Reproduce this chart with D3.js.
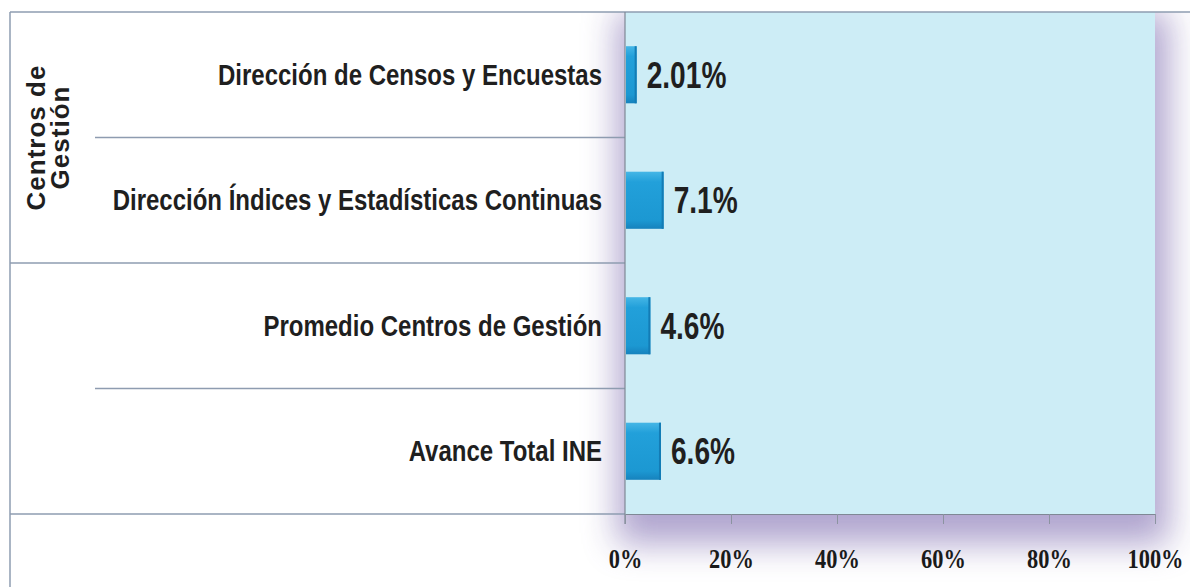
<!DOCTYPE html>
<html>
<head>
<meta charset="utf-8">
<script src="https://cdn.jsdelivr.net/npm/d3@7"></script>
<style>
  html, body { margin:0; padding:0; background:#fff; }
  svg { display:block; }
</style>
</head>
<body>
<svg id="chart" width="1190" height="587"></svg>
<script>
// data
const categories = [
    'Dirección de Censos y Encuestas',
    'Dirección Índices y Estadísticas Continuas',
    'Promedio Centros de Gestión',
    'Avance Total INE'
];
const values = [2.01, 7.1, 4.6, 6.6];
const valueLabels = ['2.01%', '7.1%', '4.6%', '6.6%'];
const rowGroups = ['Centros de Gestión', 'Centros de Gestión', '', ''];
const groupLabelLines = ['Centros de', 'Gestión'];
const tickValues = [0, 20, 40, 60, 80, 100];

const size = { width:1190, height:587 },
      plot = { left:625, right:1155, top:12, bottom:514 },
      frameLeft = 10,
      innerLineLeft = 95,
      lineColor = '#8e9cb0',
      textColor = '#1f1f1f';

const svg = d3.select('#chart');
const defs = svg.append('defs');

const glow = defs.append('filter').attr('id','glow')
    .attr('filterUnits','userSpaceOnUse')
    .attr('x',0).attr('y',0).attr('width',size.width).attr('height',size.height);
glow.append('feGaussianBlur').attr('stdDeviation',17);

defs.append('clipPath').attr('id','belowTop')
    .append('rect').attr('x',0).attr('y',plot.top).attr('width',size.width).attr('height',size.height);

const barGrad = defs.append('linearGradient').attr('id','barGrad')
    .attr('x1',0).attr('y1',0).attr('x2',0).attr('y2',1);
barGrad.append('stop').attr('offset','0%').attr('stop-color','#45b6e6');
barGrad.append('stop').attr('offset','18%').attr('stop-color','#22a0da');
barGrad.append('stop').attr('offset','85%').attr('stop-color','#1c98d2');
barGrad.append('stop').attr('offset','100%').attr('stop-color','#1682bd');

const x = d3.scaleLinear().domain([0,100]).range([plot.left, plot.right]);
const y = d3.scaleBand().domain(categories).range([plot.top, plot.bottom]).padding(0);
const barH = y.bandwidth()*0.455;

// soft lavender shadow round the plot area
svg.append('g').attr('clip-path','url(#belowTop)')
    .append('rect')
    .attr('x',plot.left-8).attr('y',plot.top).attr('width',plot.right-plot.left+22).attr('height',plot.bottom-plot.top+30)
    .attr('fill','#aca0cc').attr('opacity',0.95)
    .attr('filter','url(#glow)');

svg.append('rect')
    .attr('x',plot.left).attr('y',plot.top)
    .attr('width',plot.right-plot.left).attr('height',plot.bottom-plot.top)
    .attr('fill','#cdedf6');

// outer frame
svg.append('line').attr('x1',frameLeft).attr('x2',size.width).attr('y1',plot.top).attr('y2',plot.top)
    .attr('stroke',lineColor).attr('stroke-width',1.5);
svg.append('line').attr('x1',frameLeft).attr('x2',frameLeft).attr('y1',plot.top).attr('y2',size.height)
    .attr('stroke',lineColor).attr('stroke-width',1.5);

// category axis: separator lines (multi-level)
svg.append('g').selectAll('line').data(categories).join('line')
    .attr('x1',(d,i)=> rowGroups[i]!==rowGroups[i+1] ? frameLeft : innerLineLeft)
    .attr('x2',plot.left)
    .attr('y1',d=> y(d)+y.bandwidth()).attr('y2',d=> y(d)+y.bandwidth())
    .attr('stroke',lineColor).attr('stroke-width',1.5);

svg.append('line').attr('x1',plot.left).attr('x2',plot.left).attr('y1',plot.top).attr('y2',plot.bottom+10)
    .attr('stroke','#7f8895').attr('stroke-width',1.2);

// category labels
svg.append('g').selectAll('g').data(categories).join('g')
    .attr('transform',d=> `translate(${plot.left-23},${y(d)+y.bandwidth()/2+10}) scale(0.8,1)`)
    .append('text')
    .attr('text-anchor','end')
    .style('font-family','"Liberation Sans", Arial, sans-serif')
    .style('font-weight','bold').style('font-size','30px')
    .style('fill',textColor)
    .text(d=> d);

// group label
const grp = rowGroups.filter((g,i)=> g && rowGroups.indexOf(g)===i);
grp.forEach(g=>{
    const rows = categories.filter((c,i)=> rowGroups[i]===g);
    const yMid = (y(rows[0]) + y(rows[rows.length-1]) + y.bandwidth())/2;
    const t = svg.append('text')
        .attr('transform',`translate(45,${yMid}) rotate(-90)`)
        .attr('text-anchor','middle')
        .style('font-family','"Liberation Sans", Arial, sans-serif')
        .style('font-weight','bold').style('font-size','26px')
        .style('letter-spacing','1px')
        .style('fill',textColor);
    groupLabelLines.forEach((l,i)=> t.append('tspan').attr('x',0).attr('dy',i? 24:0).text(l));
});

// bars
const bars = svg.append('g').selectAll('g').data(categories).join('g');
bars.append('rect')
    .attr('x',x(0)+1)
    .attr('y',d=> y(d)+(y.bandwidth()-barH)/2)
    .attr('width',(d,i)=> x(values[i])-x(0))
    .attr('height',barH)
    .attr('fill','url(#barGrad)');
bars.append('rect')
    .attr('x',(d,i)=> x(values[i])-1)
    .attr('y',d=> y(d)+(y.bandwidth()-barH)/2)
    .attr('width',2)
    .attr('height',barH)
    .attr('fill','#137cb5');

// value labels
svg.append('g').selectAll('g').data(categories).join('g')
    .attr('transform',(d,i)=> `translate(${x(values[i])+11},${y(d)+y.bandwidth()/2+13}) scale(0.76,1)`)
    .append('text')
    .style('font-family','"Liberation Sans", Arial, sans-serif')
    .style('font-weight','bold').style('font-size','37px')
    .style('fill',textColor)
    .text((d,i)=> valueLabels[i]);

// value axis
const xAxis = svg.append('g')
    .attr('transform',`translate(0,${plot.bottom})`)
    .call(d3.axisBottom(x).tickValues(tickValues).tickFormat(d=> `${d}%`).tickSize(10).tickSizeOuter(0));
xAxis.select('.domain').attr('stroke','#7f8895').attr('stroke-width',1.2);
xAxis.selectAll('.tick line').attr('stroke','#8b93a0').attr('stroke-width',1);
xAxis.selectAll('.tick text')
    .attr('y',54).attr('dy',0)
    .attr('transform','scale(0.8,1)')
    .style('font-family','"Liberation Serif", "Times New Roman", serif')
    .style('font-weight','bold').style('font-size','28px')
    .style('fill','#1a1a1a');
</script>
</body>
</html>
